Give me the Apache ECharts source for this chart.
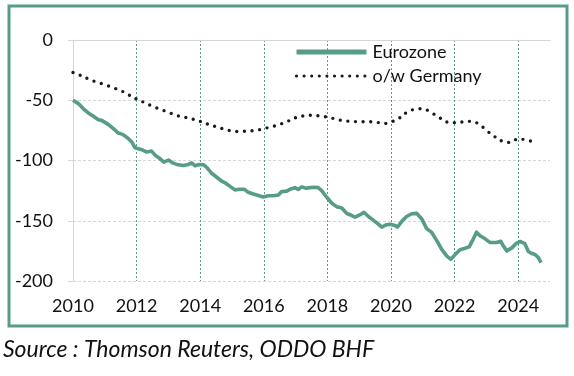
<!DOCTYPE html>
<html>
<head>
<meta charset="utf-8">
<script src="https://cdn.jsdelivr.net/npm/echarts@6/dist/echarts.min.js"></script>
<style>
  html, body { margin: 0; padding: 0; background: #fff; }
  #chart { width: 574px; height: 376px; }
</style>
</head>
<body>
<div id="chart"></div>
<script>
// Eurozone (decimal year / value)
const euroYears = [
  2010.00, 2010.17, 2010.32, 2010.48, 2010.64, 2010.80, 2010.90, 2010.95, 2011.11, 2011.27,
  2011.42, 2011.56, 2011.71, 2011.85, 2011.95, 2012.00, 2012.16, 2012.32, 2012.47, 2012.58,
  2012.74, 2012.86, 2013.00, 2013.15, 2013.31, 2013.47, 2013.63, 2013.73, 2013.84, 2013.97,
  2014.10, 2014.22, 2014.36, 2014.52, 2014.68, 2014.78, 2014.94, 2015.09, 2015.25, 2015.38,
  2015.51, 2015.67, 2015.83, 2015.98, 2016.14, 2016.30, 2016.46, 2016.56, 2016.72, 2016.85,
  2016.98, 2017.08, 2017.19, 2017.33, 2017.45, 2017.61, 2017.71, 2017.82, 2017.98, 2018.14,
  2018.29, 2018.45, 2018.61, 2018.71, 2018.87, 2019.03, 2019.15, 2019.29, 2019.44, 2019.60,
  2019.71, 2019.86, 2019.97, 2020.13, 2020.20, 2020.34, 2020.49, 2020.65, 2020.81, 2020.97,
  2021.12, 2021.28, 2021.44, 2021.59, 2021.75, 2021.88, 2022.01, 2022.17, 2022.33, 2022.46,
  2022.59, 2022.69, 2022.80, 2022.96, 2023.11, 2023.32, 2023.45, 2023.53, 2023.64, 2023.80,
  2023.95, 2024.06, 2024.21, 2024.32, 2024.43, 2024.53, 2024.63, 2024.72
];
const euroValues = [
  -50, -52.8, -56.9, -60.5, -63.3, -66.1, -66.7, -66, -70, -73.6,
  -77.2, -78.3, -81.1, -84.7, -89.4, -91, -91, -93, -92.2, -95.5,
  -98.6, -101.4, -99.6, -102.2, -103.6, -104.2, -103.3, -102, -104.4, -103.3,
  -103.5, -106.1, -110.6, -113.9, -117.2, -118.5, -121.5, -124.4, -123.8, -123.8,
  -126.4, -127.8, -129, -130.3, -129.2, -129.2, -128.6, -125.8, -125.4, -123.6,
  -122.5, -124, -121.9, -123, -122.5, -122.2, -122.5, -125, -130.5, -135.5,
  -138.3, -139.4, -144, -145, -147, -145, -143, -146.5, -149.5, -152.8,
  -155.3, -153.3, -153, -154, -155.3, -150.5, -146.5, -144.2, -143.9, -148.6,
  -156.5, -159.7, -166.5, -173.6, -179.2, -182, -178.3, -174, -172.8, -171.7,
  -165, -159.5, -162.5, -165, -168, -168, -167, -170.8, -175, -172.5,
  -168.5, -167.2, -169, -175.5, -177.2, -178, -180.5, -184.7
];

// o/w Germany, quarterly
const gerYears = [
  2010.00, 2010.25, 2010.50, 2010.75, 2011.00, 2011.25, 2011.50, 2011.75,
  2012.00, 2012.25, 2012.50, 2012.75, 2013.00, 2013.25, 2013.50, 2013.75,
  2014.00, 2014.25, 2014.50, 2014.75, 2015.00, 2015.25, 2015.50, 2015.75,
  2016.00, 2016.25, 2016.50, 2016.75, 2017.00, 2017.25, 2017.50, 2017.75,
  2018.00, 2018.25, 2018.50, 2018.75, 2019.00, 2019.25, 2019.50, 2019.75,
  2020.00, 2020.25, 2020.50, 2020.75, 2021.00, 2021.25, 2021.50, 2021.75,
  2022.00, 2022.25, 2022.50, 2022.75, 2023.00, 2023.25, 2023.50, 2023.75,
  2024.00, 2024.25, 2024.50
];
const gerValues = [
  -27, -29.5, -32.5, -35, -37, -39.5, -42, -45.5,
  -49, -52, -55, -57.5, -60, -62.5, -64, -65.5,
  -67.5, -70, -72, -74, -75.5, -76, -75.5, -75,
  -73.5, -72, -70, -67.5, -64.5, -63, -62.5, -63,
  -64, -65.5, -67, -67.5, -67.8, -67.8, -68, -69.4,
  -68, -65, -60, -57.5, -57, -60, -64, -68,
  -68.6, -68, -67.5, -69.5, -75, -80, -84, -85,
  -82, -83, -84.5
];

const seriesNames = ['Eurozone', 'o/w Germany'];
const sourceText = 'Source : Thomson Reuters, ODDO BHF';

const teal = '#579b89';
const font = 'Lato, "Noto Sans", sans-serif';

const chart = echarts.init(document.getElementById('chart'));

const option = {
  backgroundColor: '#fff',
  animation: false,
  textStyle: { fontFamily: font },
  title: {
    text: sourceText,
    left: 3,
    top: 338,
    padding: 0,
    textStyle: {
      fontFamily: font,
      fontSize: 23,
      fontStyle: 'italic',
      fontWeight: 'normal',
      color: '#111',
    },
  },
  graphic: [
    {
      type: 'rect',
      shape: { x: 9, y: 6, width: 558, height: 320 },
      style: { fill: 'none', stroke: teal, lineWidth: 3 },
      silent: true,
    },
  ],
  legend: {
    orient: 'vertical',
    left: 294,
    top: 43,
    padding: 0,
    itemWidth: 70,
    itemHeight: 14,
    itemGap: 6,
    itemStyle: { opacity: 0 },
    textStyle: { fontFamily: font, fontSize: 18, color: '#111', padding: [0, 0, 0, 1] },
    data: [
      { name: seriesNames[0], lineStyle: { width: 5 } },
      { name: seriesNames[1], lineStyle: { width: 3.2 } },
    ],
  },
  grid: { left: 73, right: 24, top: 40, bottom: 95 },
  xAxis: [
    {
      type: 'value',
      min: 2010,
      max: 2025,
      interval: 2,
      axisLine: { show: false },
      axisTick: { show: false },
      axisLabel: {
        color: '#111',
        fontSize: 18,
        margin: 16,
        showMaxLabel: false,
        formatter: v => String(v),
      },
      splitLine: {
        show: true,
        showMinLine: false,
        showMaxLine: false,
        lineStyle: { color: teal, width: 1, type: [2, 2] },
      },
    },
    {
      type: 'value',
      position: 'top',
      min: 2010,
      max: 2025,
      axisLine: { show: true, lineStyle: { color: '#d6d6d6', width: 1 } },
      axisTick: { show: false },
      axisLabel: { show: false },
      splitLine: { show: false },
    },
  ],
  yAxis: {
    type: 'value',
    min: -200,
    max: 0,
    interval: 50,
    axisLine: { show: true, lineStyle: { color: '#d6d6d6', width: 1 } },
    axisTick: { show: true, length: 5, lineStyle: { color: '#d6d6d6' } },
    axisLabel: { color: '#111', fontSize: 18, margin: 20 },
    splitLine: { show: true, lineStyle: { color: '#d6d6d6', width: 1, type: [3, 2] } },
  },
  series: [
    {
      name: seriesNames[1],
      type: 'line',
      data: gerYears.map((y, i) => [y, gerValues[i]]),
      symbol: 'none',
      smooth: 0.4,
      lineStyle: { color: '#1a1a1a', width: 3.4, type: [0, 7.6], cap: 'round' },
      itemStyle: { color: '#1a1a1a' },
      z: 3,
    },
    {
      name: seriesNames[0],
      type: 'line',
      data: euroYears.map((y, i) => [y, euroValues[i]]),
      symbol: 'none',
      lineStyle: { color: teal, width: 3.6, join: 'round' },
      itemStyle: { color: teal },
      z: 4,
    },
  ],
};

chart.setOption(option);
</script>
</body>
</html>
